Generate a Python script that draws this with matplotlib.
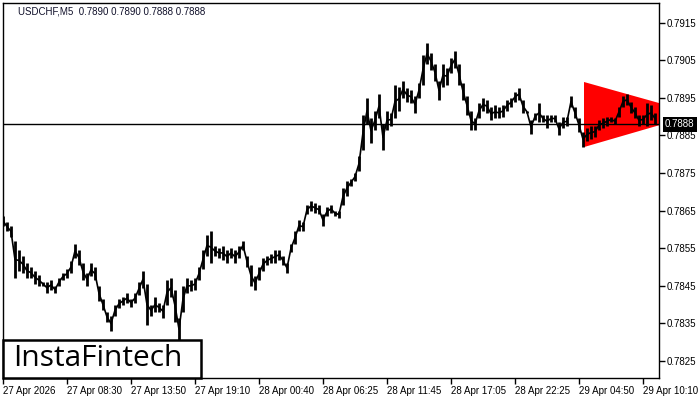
import numpy as np
import matplotlib.pyplot as plt
from matplotlib.patches import Rectangle
from matplotlib.transforms import blended_transform_factory

plt.rcParams['font.family'] = ['Liberation Sans', 'DejaVu Sans']

# USDCHF M5, one sample every 4 bars (high / low of the bars around it)
symbol = 'USDCHF,M5'
last_ohlc = [0.7890, 0.7890, 0.7888, 0.7888]
bar_step = 4

highs = [0.78635, 0.7862, 0.7861, 0.7857, 0.78545, 0.7853, 0.7851, 0.7850, 0.7849, 0.7848,
         0.7846, 0.7846, 0.78465, 0.7845, 0.7847, 0.78485, 0.78495, 0.78515, 0.7856, 0.78545,
         0.7851, 0.78485, 0.7851, 0.7850, 0.7845, 0.78415, 0.7838, 0.7837, 0.7840, 0.78415,
         0.7842, 0.7843, 0.78415, 0.7843, 0.7846, 0.7849, 0.78455, 0.7840, 0.7842, 0.78405,
         0.7840, 0.78465, 0.7847, 0.7844, 0.78365, 0.7845, 0.7847, 0.78465, 0.7847, 0.7850,
         0.78545, 0.78585, 0.78595, 0.78555, 0.7855, 0.78555, 0.78545, 0.7855, 0.78545, 0.78555,
         0.7857, 0.7853, 0.78505, 0.78475, 0.7850, 0.78525, 0.7853, 0.78535, 0.78545, 0.78545,
         0.7853, 0.7851, 0.7856, 0.78595, 0.78625, 0.7862, 0.78665, 0.78675, 0.7867, 0.78665,
         0.7864, 0.7866, 0.78665, 0.7865, 0.7865, 0.7871, 0.7873, 0.78735, 0.7875, 0.78795,
         0.78905, 0.7895, 0.78895, 0.78915, 0.7896, 0.7888, 0.78915, 0.7891, 0.78985, 0.7898,
         0.78995, 0.78975, 0.7897, 0.78955, 0.7899, 0.79065, 0.79095, 0.7907, 0.7904, 0.78995,
         0.7904, 0.7903, 0.79055, 0.79075, 0.7904, 0.7899, 0.78955, 0.78915, 0.78895, 0.78935,
         0.7895, 0.78945, 0.78925, 0.7893, 0.78925, 0.7893, 0.78945, 0.7895, 0.78965, 0.78975,
         0.78945, 0.78915, 0.7889, 0.7891, 0.78935, 0.78905, 0.78905, 0.78905, 0.78905, 0.78885,
         0.7890, 0.7890, 0.78955, 0.78925, 0.78895, 0.7886, 0.7887, 0.78875, 0.78875, 0.7889,
         0.78895, 0.7890, 0.7890, 0.78895, 0.78925, 0.78955, 0.7896, 0.7894, 0.78925, 0.78905,
         0.78905, 0.78935, 0.7893, 0.7891]

lows = [0.7861, 0.78595, 0.7858, 0.7847, 0.7849, 0.78485, 0.7847, 0.7847, 0.78455, 0.7845,
        0.7845, 0.7843, 0.7844, 0.7843, 0.7845, 0.78465, 0.7847, 0.78485, 0.78525, 0.78505,
        0.78465, 0.7845, 0.78475, 0.78465, 0.7841, 0.78385, 0.78355, 0.7833, 0.7837, 0.7839,
        0.7840, 0.78405, 0.78395, 0.78405, 0.78425, 0.78445, 0.78345, 0.7837, 0.7838, 0.7838,
        0.78365, 0.7840, 0.7842, 0.78355, 0.78305, 0.7838, 0.7843, 0.78435, 0.7844, 0.78465,
        0.78495, 0.7853, 0.7851, 0.7853, 0.78525, 0.7852, 0.7851, 0.78525, 0.7851, 0.78525,
        0.78545, 0.7850, 0.7845, 0.7844, 0.78465, 0.7849, 0.78505, 0.7851, 0.7851, 0.7852,
        0.78505, 0.78485, 0.7854, 0.7856, 0.78595, 0.78595, 0.7864, 0.7865, 0.78645, 0.7864,
        0.7861, 0.78635, 0.78645, 0.78635, 0.7863, 0.78665, 0.7869, 0.78715, 0.7873, 0.78755,
        0.7881, 0.7888, 0.7883, 0.78865, 0.78895, 0.7881, 0.78865, 0.78875, 0.78895, 0.78915,
        0.7895, 0.7894, 0.78935, 0.7891, 0.7895, 0.78985, 0.7904, 0.79025, 0.78995, 0.78945,
        0.7898, 0.78985, 0.79015, 0.7903, 0.78985, 0.78945, 0.78905, 0.78865, 0.78865, 0.78895,
        0.78915, 0.7891, 0.7889, 0.78895, 0.78895, 0.7890, 0.78915, 0.78925, 0.7894, 0.78945,
        0.7891, 0.7891, 0.78855, 0.7889, 0.78885, 0.78885, 0.7887, 0.78885, 0.78885, 0.7885,
        0.7887, 0.78875, 0.78925, 0.78895, 0.7886, 0.7882, 0.78835, 0.7884, 0.78845, 0.78865,
        0.7887, 0.78875, 0.78885, 0.7888, 0.7890, 0.78925, 0.7893, 0.7891, 0.78895, 0.78875,
        0.7888, 0.78875, 0.7889, 0.7888]

time_labels = ['27 Apr 2026', '27 Apr 08:30', '27 Apr 13:50', '27 Apr 19:10', '28 Apr 00:40',
               '28 Apr 06:25', '28 Apr 11:45', '28 Apr 17:05', '28 Apr 22:25', '29 Apr 04:50',
               '29 Apr 10:10']
label_bars = [0, 64, 128, 192, 256, 320, 384, 448, 512, 576, 640]
price_ticks = [0.7825, 0.7835, 0.7845, 0.7855, 0.7865, 0.7875, 0.7885, 0.7895, 0.7905, 0.7915]
current_price = 0.7888

# symmetric triangle pattern (left top, left bottom, apex)
tri_bars = [581, 581, 695]
tri_prices = [0.78992, 0.78819, 0.78907]

fig = plt.figure(figsize=(7, 4), dpi=100)
ax = fig.add_axes([3/700, 22/400, 656/700, 375/400])
ax.set_xlim(0, 656)
ax.set_ylim(0.78205, 0.79202)

ax.fill(tri_bars, tri_prices, color='#ff0000', lw=0, zorder=1)
ax.axhline(current_price, color='black', lw=1, zorder=2)

x = np.arange(len(highs)) * bar_step
hi = np.array(highs)
lo = np.array(lows)
ax.vlines(x, lo, hi, color='black', lw=2.0, zorder=3)
ax.plot(x, (hi + lo) / 2, color='black', lw=1.2, zorder=3)

ax.yaxis.tick_right()
ax.set_yticks(price_ticks, [f'{p:.4f}' for p in price_ticks])
ax.set_xticks(label_bars, time_labels)
for lbl in ax.get_xticklabels():
    lbl.set_ha('left')
ax.tick_params(axis='y', direction='out', length=4, width=1, labelsize=7, pad=1.5)
ax.tick_params(axis='x', direction='out', length=4, width=1, labelsize=7, pad=2)
for s in ax.spines.values():
    s.set_linewidth(1)

tr = blended_transform_factory(ax.transAxes, ax.transData)
ax.text(1 + 6/656, current_price, f'{current_price:.4f}', transform=tr, color='white',
        fontsize=7, va='center', ha='left', zorder=5, clip_on=False,
        bbox=dict(boxstyle='square,pad=0.25', fc='black', ec='none'))

ohlc_txt = ' '.join(f'{v:.4f}' for v in last_ohlc)
fig.text(18/700, 1 - 12/400, f'{symbol}  {ohlc_txt}', fontsize=7, color='#10102a', va='center')

# logo box
fig.add_artist(Rectangle((3/700, 22/400), 198/700, 38/400, transform=fig.transFigure,
                         fc='white', ec='black', lw=1.8, zorder=10))
fig.text(98/700, 41/400, 'InstaFintech', fontsize=21.5, family='Open Sans', weight='medium',
         color='black', ha='center', va='center', zorder=11)

fig.savefig('out.png', dpi=100)
